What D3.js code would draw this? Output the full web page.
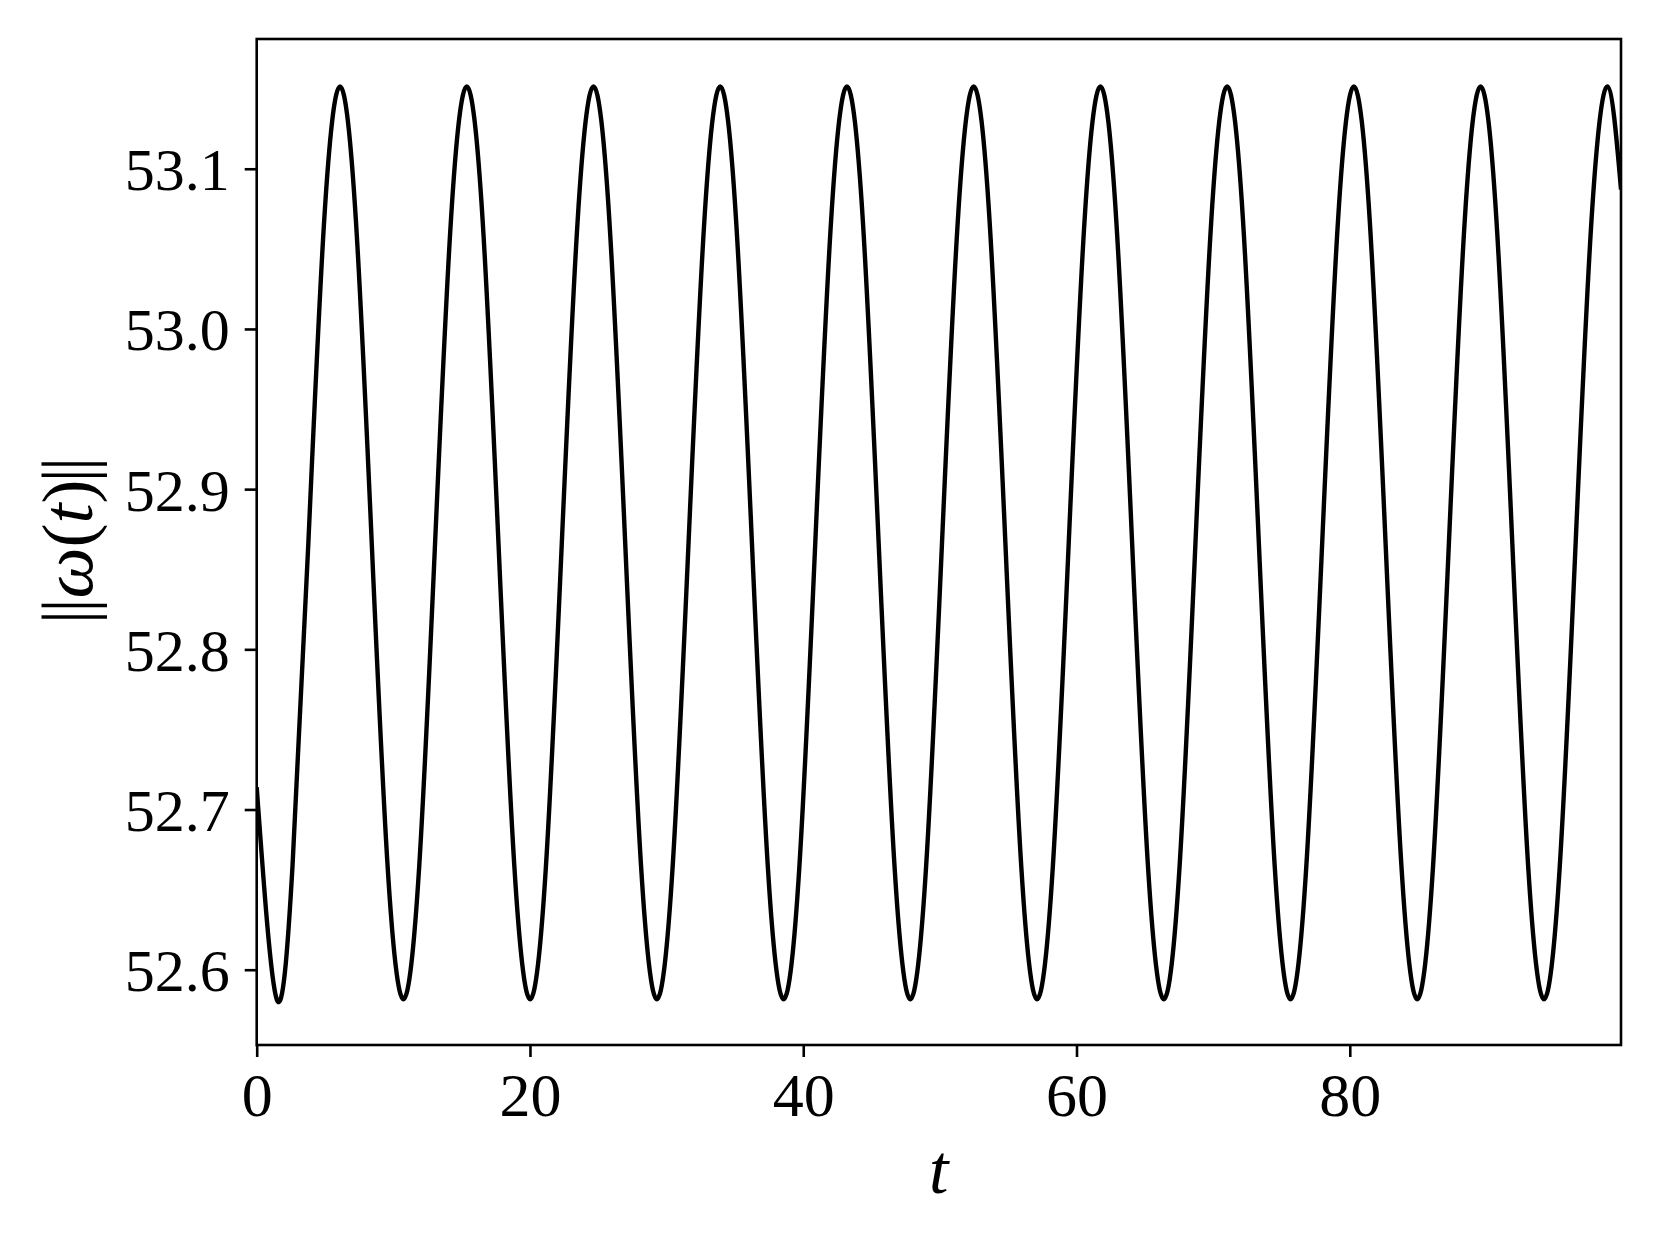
<!DOCTYPE html>
<html>
<head>
<meta charset="utf-8">
<script src="https://cdn.jsdelivr.net/npm/d3@7"></script>
<style>
  html, body { margin: 0; padding: 0; background: #fff; }
  text { font-family: "Liberation Serif", serif; fill: #000; }
</style>
</head>
<body>
<svg id="chart" width="1660" height="1245"></svg>
<script>
// ---- data ----
const tValues = [
  0.000,
  1.463, 2.622, 3.781, 4.941, 6.100, 7.259, 8.419, 9.578,
  10.738, 11.897, 13.056, 14.216, 15.375, 16.534, 17.694, 18.853,
  20.013, 21.172, 22.331, 23.491, 24.650, 25.809, 26.969, 28.128,
  29.288, 30.447, 31.606, 32.766, 33.925, 35.084, 36.244, 37.403,
  38.563, 39.722, 40.881, 42.041, 43.200, 44.359, 45.519, 46.678,
  47.838, 48.997, 50.156, 51.316, 52.475, 53.634, 54.794, 55.953,
  57.113, 58.272, 59.431, 60.591, 61.750, 62.909, 64.069, 65.228,
  66.388, 67.547, 68.706, 69.866, 71.025, 72.184, 73.344, 74.503,
  75.663, 76.822, 77.981, 79.141, 80.300, 81.459, 82.619, 83.778,
  84.938, 86.097, 87.256, 88.416, 89.575, 90.734, 91.894, 93.053,
  94.213, 95.372, 96.531, 97.691, 98.850,
  99.850
];
const omegaNorm = [
  52.714,
  52.5816, 52.6650, 52.8665, 53.0680, 53.1514, 53.0680, 52.8665, 52.6650,
  52.5816, 52.6650, 52.8665, 53.0680, 53.1514, 53.0680, 52.8665, 52.6650,
  52.5816, 52.6650, 52.8665, 53.0680, 53.1514, 53.0680, 52.8665, 52.6650,
  52.5816, 52.6650, 52.8665, 53.0680, 53.1514, 53.0680, 52.8665, 52.6650,
  52.5816, 52.6650, 52.8665, 53.0680, 53.1514, 53.0680, 52.8665, 52.6650,
  52.5816, 52.6650, 52.8665, 53.0680, 53.1514, 53.0680, 52.8665, 52.6650,
  52.5816, 52.6650, 52.8665, 53.0680, 53.1514, 53.0680, 52.8665, 52.6650,
  52.5816, 52.6650, 52.8665, 53.0680, 53.1514, 53.0680, 52.8665, 52.6650,
  52.5816, 52.6650, 52.8665, 53.0680, 53.1514, 53.0680, 52.8665, 52.6650,
  52.5816, 52.6650, 52.8665, 53.0680, 53.1514, 53.0680, 52.8665, 52.6650,
  52.5816, 52.6650, 52.8665, 53.0680, 53.1514,
  53.087
];
const xTicks = [0, 20, 40, 60, 80];
const xTickLabels = ["0", "20", "40", "60", "80"];
const yTicks = [52.6, 52.7, 52.8, 52.9, 53.0, 53.1];
const yTickLabels = ["52.6", "52.7", "52.8", "52.9", "53.0", "53.1"];
const xDomain = [0, 99.85];
const yDomain = [52.553, 53.181];

// ---- layout ----
const L = 256.7, R = 1621, T = 39, B = 1045;
const svg = d3.select("#chart");

const x = d3.scaleLinear().domain(xDomain).range([L, R]);
const y = d3.scaleLinear().domain(yDomain).range([B, T]);

svg.append("defs").append("clipPath").attr("id", "clip")
  .append("rect").attr("x", L).attr("y", T).attr("width", R - L).attr("height", B - T);

const pts = tValues.map((t, i) => [t, omegaNorm[i]]);
const line = d3.line().x(d => x(d[0])).y(d => y(d[1])).curve(d3.curveNatural);

svg.append("path")
  .datum(pts)
  .attr("clip-path", "url(#clip)")
  .attr("d", line)
  .attr("fill", "none")
  .attr("stroke", "#000")
  .attr("stroke-width", 4.4)
  .attr("stroke-linejoin", "round");

// frame
svg.append("rect")
  .attr("x", L).attr("y", T).attr("width", R - L).attr("height", B - T)
  .attr("fill", "none").attr("stroke", "#000").attr("stroke-width", 2.6);

// x axis
const xAxis = d3.axisBottom(x).tickValues(xTicks)
  .tickFormat((d, i) => xTickLabels[i]).tickSize(12).tickPadding(8);
const gx = svg.append("g").attr("transform", `translate(0,${B})`).call(xAxis);
gx.select(".domain").remove();
gx.selectAll(".tick line").attr("stroke", "#000").attr("stroke-width", 2.6);
gx.selectAll(".tick text").attr("font-size", 62).attr("font-family", "Liberation Serif")
  .attr("dy", null).attr("y", 71).attr("fill", "#000");

// y axis
const yAxis = d3.axisLeft(y).tickValues(yTicks)
  .tickFormat((d, i) => yTickLabels[i]).tickSize(12).tickPadding(15);
const gy = svg.append("g").attr("transform", `translate(${L},0)`).call(yAxis);
gy.select(".domain").remove();
gy.selectAll(".tick line").attr("stroke", "#000").attr("stroke-width", 2.6);
gy.selectAll(".tick text").attr("font-size", 60).attr("font-family", "Liberation Serif")
  .attr("dy", null).attr("y", 21).attr("x", -27).attr("fill", "#000");

// x label
svg.append("text")
  .attr("x", (L + R) / 2).attr("y", 1193)
  .attr("text-anchor", "middle")
  .attr("font-size", 70).attr("font-style", "italic")
  .text("t");

// y label
const yl = svg.append("text")
  .attr("transform", `translate(92,${(T + B) / 2}) rotate(-90)`)
  .attr("text-anchor", "middle")
  .attr("font-size", 72);
yl.append("tspan").attr("letter-spacing", -3).text("||");
yl.append("tspan").attr("dx", 3).attr("font-style", "italic").text("\u03c9");
yl.append("tspan").text("(");
yl.append("tspan").attr("font-style", "italic").text("t");
yl.append("tspan").attr("letter-spacing", -3).text(")||");
</script>
</body>
</html>
